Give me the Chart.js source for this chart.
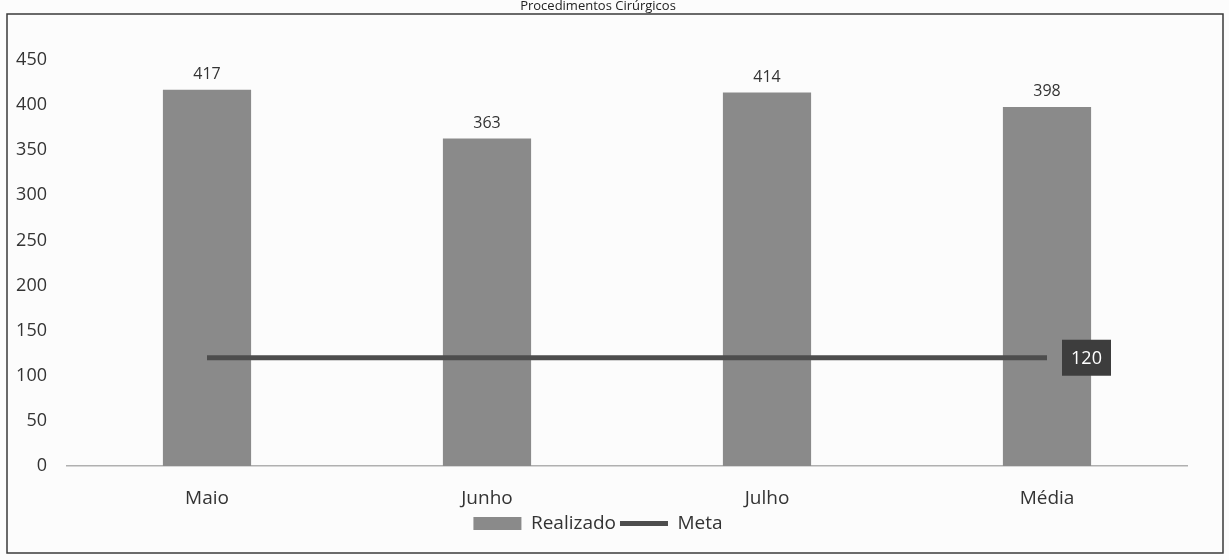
<!DOCTYPE html>
<html>
<head>
<meta charset="utf-8">
<script src="https://cdn.jsdelivr.net/npm/chart.js@4.4.1/dist/chart.umd.min.js"></script>
<style>
    html, body { margin: 0; padding: 0; background: #fcfcfc; }
    #wrap { width: 1229px; height: 560px; }
</style>
</head>
<body>
<div id="wrap"><canvas id="cirurgias-graph" width="1229" height="560"></canvas></div>
<script>
const titulo = 'Procedimentos Cirúrgicos';
const meses = ['Maio', 'Junho', 'Julho', 'Média'];
const realizado = [417, 363, 414, 398];
const meta = [120, 120, 120, 120];
const yMax = 450;
const yStep = 50;

const fontFamily = '"Open Sans", "Noto Sans", sans-serif';

// moldura da figura + rotulos de valor
const extras = {
    id: 'extras',
    beforeDraw(chart) {
        const ctx = chart.ctx;
        ctx.save();
        ctx.strokeStyle = '#3a3a3a';
        ctx.lineWidth = 1.5;
        ctx.strokeRect(7, 14, 1216, 539);
        ctx.restore();
    },
    afterDatasetsDraw(chart) {
        const ctx = chart.ctx;
        ctx.save();

        const bars = chart.getDatasetMeta(0).data;
        ctx.font = '16px ' + fontFamily;
        ctx.fillStyle = '#333';
        ctx.textAlign = 'center';
        ctx.textBaseline = 'middle';
        bars.forEach((bar, i) => {
            ctx.fillText(realizado[i], bar.x, bar.y - 15);
        });

        const pts = chart.getDatasetMeta(1).data;
        const last = pts[pts.length - 1];
        ctx.fillStyle = '#3d3d3d';
        ctx.fillRect(last.x + 15, last.y - 18, 49, 36);
        ctx.fillStyle = '#fff';
        ctx.font = '18px ' + fontFamily;
        ctx.fillText(meta[meta.length - 1], last.x + 39.5, last.y + 1);

        ctx.restore();
    }
};

const cirurgiasChart = document.getElementById('cirurgias-graph');

let cirurgiasGraph = new Chart(cirurgiasChart, {
    type: 'bar',
    data: {
        labels: meses,
        datasets: [{
            type: 'bar',
            label: 'Realizado',
            data: realizado,
            backgroundColor: '#8a8a8a',
            borderWidth: 0,
            barPercentage: 0.9,
            categoryPercentage: 0.35,
            pointStyle: 'rect',
            order: 2
        }, {
            type: 'line',
            label: 'Meta',
            data: meta,
            borderColor: '#4d4d4d',
            backgroundColor: '#4d4d4d',
            borderWidth: 5,
            pointRadius: 0,
            pointStyle: 'line',
            order: 1
        }]
    },
    options: {
        responsive: false,
        animation: false,
        layout: {
            padding: { left: 9, right: 42, top: 0, bottom: 17 }
        },
        plugins: {
            title: {
                display: true,
                text: titulo,
                color: '#222',
                font: { family: fontFamily, size: 13, weight: 'normal', lineHeight: 1 },
                padding: { top: 0, bottom: 47 }
            },
            legend: {
                position: 'bottom',
                labels: {
                    usePointStyle: true,
                    pointStyleWidth: 48,
                    boxHeight: 13,
                    color: '#333',
                    padding: 4,
                    font: { family: fontFamily, size: 19 },
                    sort: (a, b) => a.datasetIndex - b.datasetIndex
                }
            },
            tooltip: { enabled: false }
        },
        scales: {
            x: {
                grid: { display: false, drawTicks: false },
                border: { display: true, color: '#b0b0b0', width: 1.5, dash: [2, 1] },
                afterFit(axis) { axis.height = 44; },
                ticks: {
                    color: '#333',
                    padding: 21,
                    font: { family: fontFamily, size: 19 }
                }
            },
            y: {
                min: 0,
                max: yMax,
                grid: { display: false, drawTicks: false },
                border: { display: false },
                afterFit(axis) { axis.width = 58; },
                ticks: {
                    stepSize: yStep,
                    color: '#333',
                    padding: 20,
                    font: { family: fontFamily, size: 18 }
                }
            }
        }
    },
    plugins: [extras]
});
</script>
</body>
</html>
